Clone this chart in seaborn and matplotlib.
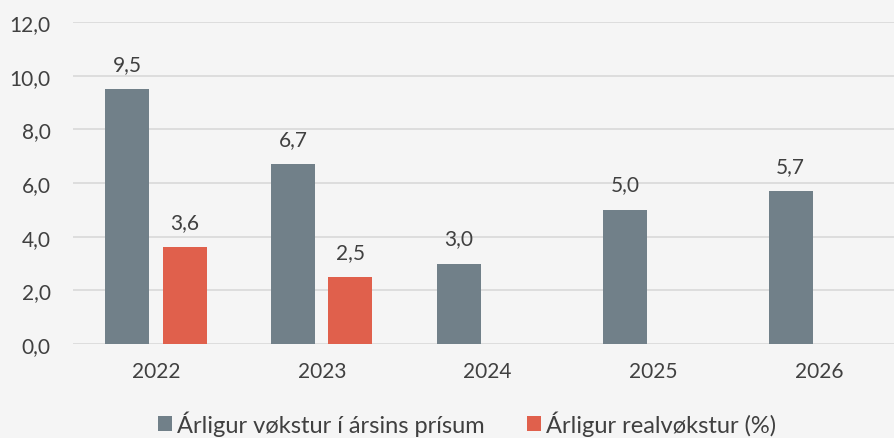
import numpy as np
import pandas as pd
import matplotlib
matplotlib.use("Agg")
import matplotlib.pyplot as plt
import seaborn as sns

# data
years = ["2022", "2023", "2024", "2025", "2026"]
nominal_growth = [9.5, 6.7, 3.0, 5.0, 5.7]
real_growth = [3.6, 2.5, np.nan, np.nan, np.nan]
series_names = ["Árligur vøkstur í ársins prísum", "Árligur realvøkstur (%)"]
y_ticks = [0, 2, 4, 6, 8, 10, 12]

colors = ["#718089", "#E0604C"]
bg = "#F5F5F5"
text_col = "#404040"

df = pd.DataFrame({
    "year": years * 2,
    "value": nominal_growth + real_growth,
    "series": [series_names[0]] * len(years) + [series_names[1]] * len(years),
})

sns.set_theme(style="white")
plt.rcParams["font.family"] = ["Lato", "DejaVu Sans"]

fig = plt.figure(figsize=(8.94, 4.39), dpi=100, facecolor=bg)
ax = fig.add_axes([73 / 894, 1 - 345 / 439, 1 - 73 / 894, (345 - 23) / 439])
ax.set_facecolor(bg)

sns.barplot(
    data=df, x="year", y="value", hue="series",
    palette=colors, width=0.69, gap=0.23, ax=ax,
    errorbar=None, saturation=1, legend=True, linewidth=0,
)

# value labels, comma as decimal separator
for cont in ax.containers:
    for rect in cont:
        h = rect.get_height()
        if np.isnan(h) or h == 0:
            continue
        ax.annotate(f"{h:.1f}".replace(".", ","),
                    (rect.get_x() + rect.get_width() / 2, h),
                    xytext=(0, 11), textcoords="offset points",
                    ha="center", va="bottom", fontsize=15, color=text_col)

ax.set_ylim(0, 12)
ax.set_xlim(-0.5, 4.45)
ax.set_yticks(y_ticks)
ax.set_yticklabels([f"{v:.1f}".replace(".", ",") for v in y_ticks])
ax.yaxis.grid(True, color="#D9D9D9", linewidth=1.2)
ax.set_axisbelow(True)
ax.tick_params(axis="both", length=0, labelsize=15, labelcolor=text_col)
ax.tick_params(axis="x", pad=12)
ax.tick_params(axis="y", pad=16)
ax.set_xlabel("")
ax.set_ylabel("")
for s in ax.spines.values():
    s.set_visible(False)

handles, labels = ax.get_legend_handles_labels()
ax.legend(handles, labels, loc="center", bbox_to_anchor=(0.48, -0.245),
          ncol=2, frameon=False, fontsize=17, labelcolor=text_col,
          handlelength=0.6, handleheight=0.6, handletextpad=0.2,
          columnspacing=1.8, borderpad=0.2)

fig.savefig("out.png", dpi=100, facecolor=bg)
